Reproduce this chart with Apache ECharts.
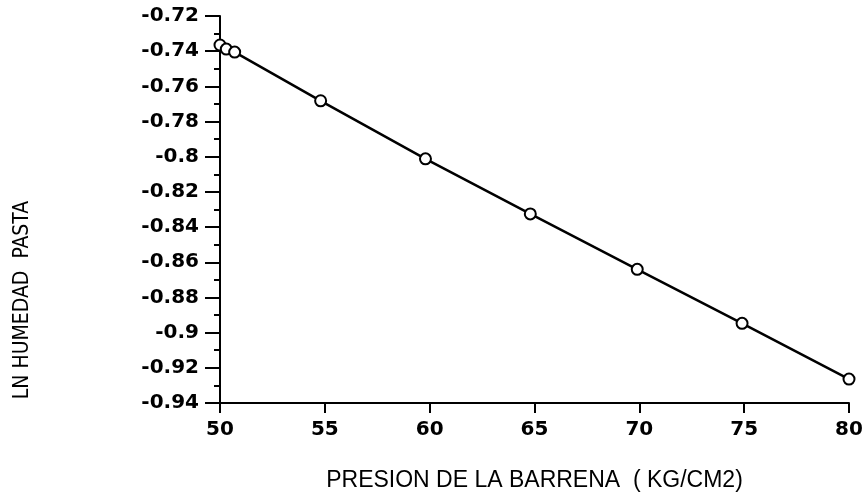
<!DOCTYPE html>
<html>
<head>
<meta charset="utf-8">
<script src="https://cdn.jsdelivr.net/npm/echarts@6/dist/echarts.min.js"></script>
<style>
html,body{margin:0;padding:0;background:#fff;}
#main{width:868px;height:499px;}
</style>
</head>
<body>
<div id="main"></div>
<script>
const xTitle = 'PRESION DE LA BARRENA  ( KG/CM2)';
const yTitle = 'LN HUMEDAD  PASTA';
const presion = [50, 50.3, 50.7, 54.8, 59.8, 64.8, 69.9, 74.9, 80];
const lnHumedad = [-0.7365, -0.7388, -0.7405, -0.7682, -0.8012, -0.8325, -0.8640, -0.8947, -0.9264];
const xTicks = [50, 55, 60, 65, 70, 75, 80];
const yTicks = [-0.72, -0.74, -0.76, -0.78, -0.8, -0.82, -0.84, -0.86, -0.88, -0.9, -0.92, -0.94];

const chart = echarts.init(document.getElementById('main'), null, {renderer: 'canvas'});
const labelFont = '"DejaVu Sans", "Liberation Sans", Arial, sans-serif';
const titleFont = '"Liberation Sans", Arial, sans-serif';
const narrowFont = '"Liberation Sans Narrow", "DejaVu Sans Condensed", Arial, sans-serif';
chart.setOption({
  animation: false,
  backgroundColor: '#ffffff',
  grid: {left: 220, right: 19, top: 16, bottom: 96, containLabel: false},
  xAxis: {
    type: 'value',
    min: xTicks[0], max: xTicks[xTicks.length - 1], interval: 5,
    name: xTitle, nameLocation: 'middle', nameGap: 66,
    nameTextStyle: {fontFamily: titleFont, fontSize: 23, color: '#000'},
    axisLine: {show: true, onZero: false, lineStyle: {color: '#000', width: 2}},
    axisTick: {show: true, length: 10, lineStyle: {color: '#000', width: 2}},
    axisLabel: {fontFamily: labelFont, fontWeight: 'bold', fontSize: 20, color: '#000', margin: 17,
      formatter: v => String(v)},
    splitLine: {show: false}
  },
  yAxis: {
    type: 'value',
    min: yTicks[yTicks.length - 1], max: yTicks[0], interval: 0.02,
    name: yTitle, nameLocation: 'middle', nameGap: 187, nameRotate: 90,
    nameTextStyle: {fontFamily: narrowFont, fontSize: 21, color: '#000', padding: [0, 181, 0, 0]},
    axisLine: {show: true, onZero: false, lineStyle: {color: '#000', width: 2}},
    axisTick: {show: true, length: 15, lineStyle: {color: '#000', width: 2}},
    minorTick: {show: true, splitNumber: 2, length: 6, lineStyle: {color: '#000', width: 2}},
    axisLabel: {fontFamily: labelFont, fontWeight: 'bold', fontSize: 20, color: '#000', margin: 21,
      formatter: v => String(parseFloat(v.toFixed(2)))},
    splitLine: {show: false}
  },
  series: [{
    type: 'line',
    data: presion.map((x, i) => [x, lnHumedad[i]]),
    symbol: 'emptyCircle',
    symbolSize: 11,
    showAllSymbol: true,
    lineStyle: {color: '#000', width: 2.5},
    itemStyle: {color: '#000', borderColor: '#000', borderWidth: 2.5},
    clip: false
  }]
});
</script>
</body>
</html>
